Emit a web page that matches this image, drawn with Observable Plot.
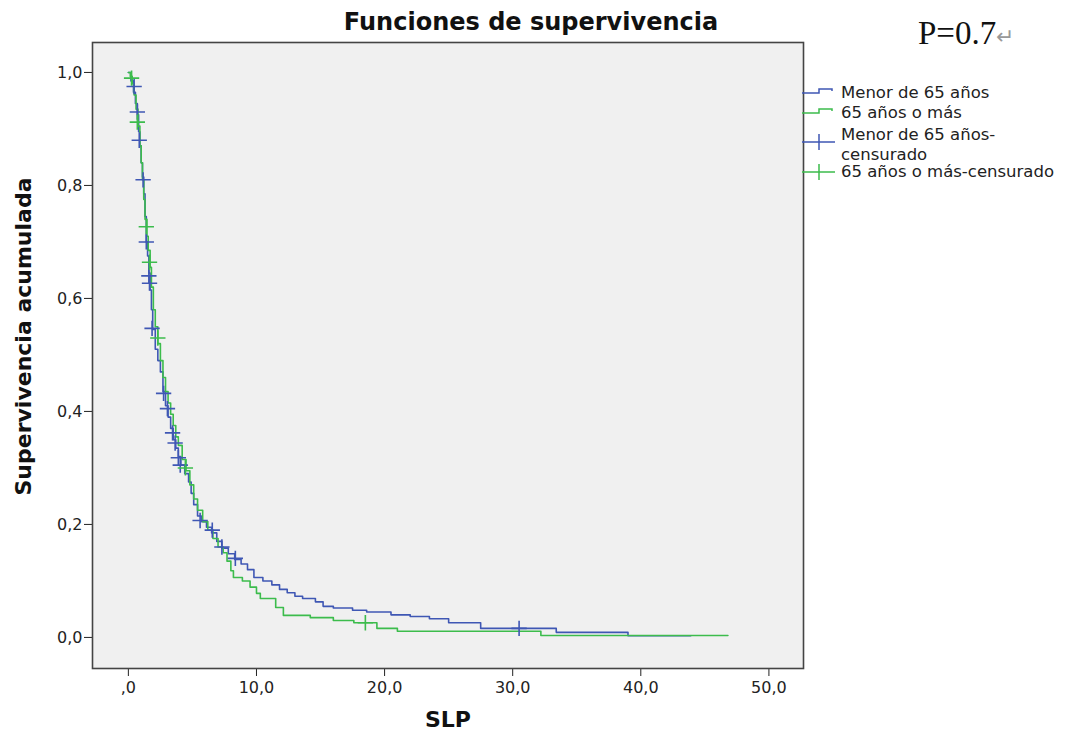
<!DOCTYPE html>
<html>
<head>
<meta charset="utf-8">
<script src="https://cdn.jsdelivr.net/npm/d3@7"></script>
<script src="https://cdn.jsdelivr.net/npm/@observablehq/plot@0.6"></script>
<style>
  body { margin: 0; background: #fff; font-family: "DejaVu Sans", sans-serif; }
  #wrap { position: relative; width: 1070px; height: 742px; overflow: hidden; }
  #chart { position: absolute; left: 0; top: 0; }
  .title { position: absolute; left: 0; width: 1062px; top: 8px; text-align: center;
           font: bold 24px "DejaVu Sans", sans-serif; color: #111; line-height: 28px; }
  .pval { position: absolute; left: 918px; top: 13px; font: 33px "Liberation Serif", serif; color: #111; line-height: 40px; }
  .pval span { color: #999; font-size: 22px; }
  .leg { position: absolute; left: 841px; font: 16.5px "DejaVu Sans", sans-serif; color: #222; line-height: 20px; white-space: nowrap; }
  #legsvg { position: absolute; left: 802px; top: 80px; }
  #chart [aria-label="x-axis label"] text { font-weight: bold; font-size: 22px; fill: #111; }
</style>
</head>
<body>
<div id="wrap">
  <div id="chart"></div>
  <div class="title">Funciones de supervivencia</div>
  <div class="pval">P=0.7<span>↵</span></div>
  <svg id="legsvg" width="40" height="100"></svg>
  <div class="leg" style="top:83px">Menor de 65 años</div>
  <div class="leg" style="top:103px">65 años o más</div>
  <div class="leg" style="top:125px">Menor de 65 años-<br>censurado</div>
  <div class="leg" style="top:162px">65 años o más-censurado</div>
</div>
<script>
// ---- Data ----
const groups = ["Menor de 65 años", "65 años o más"];
const colors = ["#3f57b4", "#3cbc4c"];
const yLabel = "Supervivencia acumulada";
const xLabel = "SLP";

// Kaplan-Meier step points: time (SLP) and survival after the step
const youngT = [0, 0.2, 0.4, 0.55, 0.7, 0.8, 0.9, 1.0, 1.1, 1.2, 1.3, 1.4, 1.5, 1.6, 1.7, 1.8, 1.9, 2.1, 2.3, 2.5, 2.7, 2.9, 3.1, 3.3, 3.5, 3.7, 3.9, 4.1, 4.4, 4.7, 4.9, 5.1, 5.4, 5.7, 6.1, 6.5, 6.9, 7.3, 7.8, 8.3, 8.8, 9.3, 9.8, 10.5, 11.2, 11.8, 12.4, 13.0, 13.6, 14.6, 15.2, 16.0, 17.5, 18.6, 20.5, 22.0, 23.5, 25.0, 27.5, 33.4, 39.0, 43.9];
const youngS = [1.0, 0.985, 0.965, 0.945, 0.925, 0.895, 0.87, 0.84, 0.815, 0.785, 0.745, 0.70, 0.675, 0.645, 0.615, 0.58, 0.545, 0.51, 0.49, 0.47, 0.435, 0.41, 0.39, 0.37, 0.35, 0.335, 0.32, 0.305, 0.29, 0.275, 0.255, 0.235, 0.215, 0.205, 0.195, 0.185, 0.17, 0.158, 0.148, 0.138, 0.13, 0.12, 0.106, 0.10, 0.093, 0.085, 0.079, 0.073, 0.069, 0.063, 0.055, 0.052, 0.048, 0.045, 0.040, 0.037, 0.033, 0.026, 0.016, 0.009, 0.003, 0.003];

const oldT = [0, 0.15, 0.3, 0.45, 0.6, 0.75, 0.9, 1.0, 1.1, 1.2, 1.3, 1.45, 1.55, 1.7, 1.8, 1.95, 2.1, 2.3, 2.5, 2.7, 2.9, 3.1, 3.3, 3.5, 3.7, 3.9, 4.2, 4.5, 4.8, 5.1, 5.4, 5.8, 6.2, 6.6, 7.0, 7.4, 7.7, 8.0, 8.2, 8.9, 9.5, 10.0, 10.3, 11.5, 12.1, 14.2, 16.0, 17.6, 19.4, 21.0, 32.2, 46.8];
const oldS = [1.0, 0.993, 0.98, 0.96, 0.935, 0.905, 0.87, 0.84, 0.81, 0.775, 0.74, 0.71, 0.685, 0.655, 0.62, 0.58, 0.55, 0.52, 0.49, 0.46, 0.435, 0.415, 0.395, 0.375, 0.355, 0.34, 0.315, 0.295, 0.27, 0.245, 0.225, 0.205, 0.19, 0.175, 0.16, 0.15, 0.135, 0.118, 0.106, 0.10, 0.089, 0.078, 0.069, 0.053, 0.039, 0.035, 0.030, 0.026, 0.016, 0.011, 0.0035, 0.0035];

// Censored observations
const youngCensT = [0.45, 0.7, 0.85, 1.15, 1.4, 1.6, 1.65, 1.85, 2.75, 3.05, 3.45, 3.65, 3.9, 4.05, 5.6, 6.55, 7.3, 8.35, 30.5];
const youngCensS = [0.975, 0.93, 0.88, 0.81, 0.70, 0.64, 0.627, 0.547, 0.432, 0.405, 0.362, 0.344, 0.318, 0.305, 0.207, 0.19, 0.16, 0.14, 0.016];
const oldCensT = [0.25, 0.7, 1.4, 1.65, 2.3, 4.45, 18.5];
const oldCensS = [0.99, 0.912, 0.727, 0.664, 0.53, 0.30, 0.026];

const xTicks = [0, 10, 20, 30, 40, 50];
const yTicks = [0, 0.2, 0.4, 0.6, 0.8, 1.0];

// ---- Build tables ----
const toRows = (T, S) => T.map((t, i) => ({t, s: S[i]}));
const young = toRows(youngT, youngS);
const old = toRows(oldT, oldS);
const youngC = toRows(youngCensT, youngCensS);
const oldC = toRows(oldCensT, oldCensS);

const fmtX = d => d === 0 ? ",0" : d.toFixed(1).replace(".", ",");
const fmtY = d => d.toFixed(1).replace(".", ",");

const chart = Plot.plot({
  width: 1070,
  height: 742,
  marginLeft: 92,
  marginRight: 267,
  marginTop: 42,
  marginBottom: 74,
  style: {fontFamily: "DejaVu Sans, sans-serif", fontSize: "16px", color: "#222", background: "transparent", overflow: "visible"},
  x: {domain: [-2.8, 52.7]},
  y: {domain: [-0.055, 1.053]},
  marks: [
    Plot.frame({fill: "#f0f0f0", stroke: null}),
    Plot.axisX({ticks: xTicks, tickSize: 8, tickPadding: 5, tickFormat: fmtX, label: xLabel, labelAnchor: "center", labelOffset: 58, labelArrow: "none"}),
    Plot.axisY({ticks: yTicks, tickSize: 8, tickPadding: 2, tickFormat: fmtY, label: null}),
    Plot.text([yLabel], {text: d => d, frameAnchor: "left", textAnchor: "middle", rotate: -90, dx: -69, dy: -19, fontWeight: "bold", fontSize: 22, fill: "#111"}),
    Plot.line(young, {x: "t", y: "s", curve: "step-after", stroke: colors[0], strokeWidth: 1.6}),
    Plot.line(old, {x: "t", y: "s", curve: "step-after", stroke: colors[1], strokeWidth: 1.6}),
    Plot.dot(youngC, {x: "t", y: "s", symbol: "plus", r: 5, stroke: colors[0], strokeWidth: 1.6}),
    Plot.dot(oldC, {x: "t", y: "s", symbol: "plus", r: 5, stroke: colors[1], strokeWidth: 1.6}),
    Plot.frame({stroke: "#444", strokeWidth: 1.6})
  ]
});
document.getElementById("chart").appendChild(chart);

// ---- Legend swatches ----
const ls = d3.select("#legsvg");
ls.append("path").attr("d", "M0,13H17V9H30V11").attr("fill", "none").attr("stroke", colors[0]).attr("stroke-width", 1.5);
ls.append("path").attr("d", "M0,33H17V29H30V31").attr("fill", "none").attr("stroke", colors[1]).attr("stroke-width", 1.5);
ls.append("path").attr("d", "M0,62H33M17,54V70").attr("fill", "none").attr("stroke", colors[0]).attr("stroke-width", 1.5);
ls.append("path").attr("d", "M0,92H33M17,84V100").attr("fill", "none").attr("stroke", colors[1]).attr("stroke-width", 1.5);
</script>
</body>
</html>
